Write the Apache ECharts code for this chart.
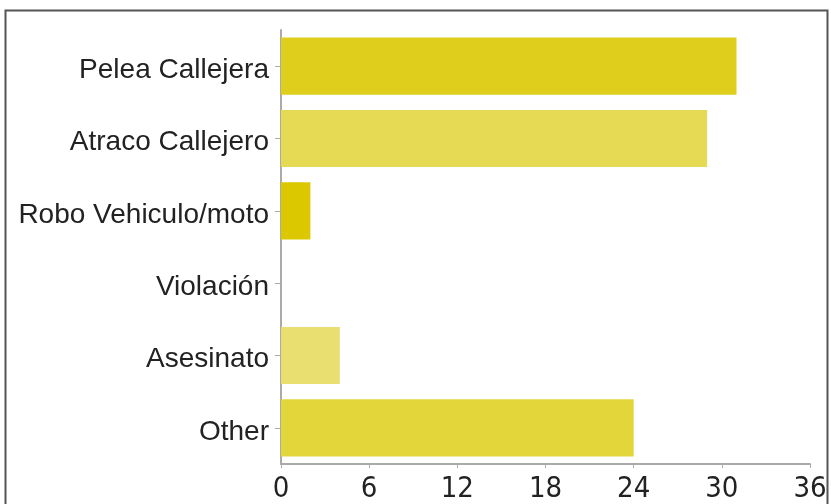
<!DOCTYPE html>
<html>
<head>
<meta charset="utf-8">
<script src="https://cdn.jsdelivr.net/npm/echarts@6/dist/echarts.min.js"></script>
<style>
  html, body { margin: 0; padding: 0; background: #fff; }
  #main { width: 831px; height: 504px; }
</style>
</head>
<body>
<div id="main"></div>
<script>
var categories = ['Pelea Callejera', 'Atraco Callejero', 'Robo Vehiculo/moto', 'Violación', 'Asesinato', 'Other'];
var values = [31, 29, 2, 0, 4, 24];
var barColors = ['#dfcf1c', '#e6da55', '#dcc800', '#e3d63a', '#e8df70', '#e3d63a'];
var xTicks = [0, 6, 12, 18, 24, 30, 36];

var myChart = echarts.init(document.getElementById('main'));
var option = {
    animation: false,
    textStyle: { fontFamily: 'Liberation Sans, Arial, sans-serif' },
    graphic: [{
        type: 'rect',
        shape: { x: 5.5, y: 10.5, width: 822, height: 510 },
        style: { fill: 'none', stroke: '#555', lineWidth: 2 },
        silent: true
    }],
    grid: { left: 281, right: 21, top: 30, bottom: 40 },
    xAxis: {
        type: 'value',
        min: xTicks[0],
        max: xTicks[xTicks.length - 1],
        interval: 6,
        splitLine: { show: false },
        axisLine: { show: true, lineStyle: { color: '#aaa', width: 2 } },
        axisTick: { show: true, length: 4, lineStyle: { color: '#aaa' } },
        axisLabel: {
            color: '#222',
            fontSize: 29,
            fontFamily: 'Liberation Sans Narrow, DejaVu Sans Condensed, Liberation Sans, sans-serif',
            margin: 11,
            showMaxLabel: true
        }
    },
    yAxis: {
        type: 'category',
        data: categories,
        inverse: true,
        axisLine: { show: true, lineStyle: { color: '#aaa', width: 2 } },
        axisTick: { show: true, length: 6, alignWithLabel: true, lineStyle: { color: '#aaa' } },
        axisLabel: { color: '#222', fontSize: 28, margin: 12, verticalAlign: 'top', lineHeight: 8 }
    },
    series: [{
        type: 'bar',
        barCategoryGap: '21%',
        data: values.map(function (v, i) {
            return { value: v, itemStyle: { color: barColors[i] } };
        })
    }]
};
myChart.setOption(option, true);
</script>
</body>
</html>
